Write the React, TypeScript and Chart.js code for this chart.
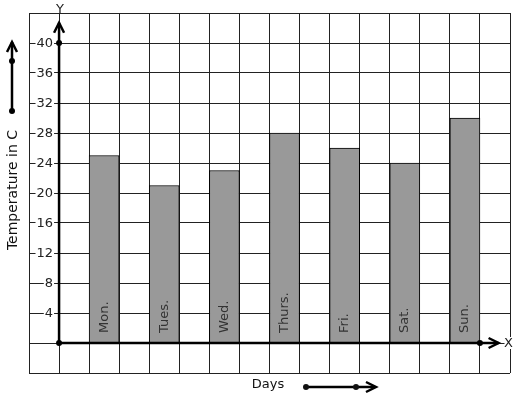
import React, { useEffect, useRef } from "react";
import { Chart, registerables } from "chart.js";

Chart.register(...registerables);

const days = ["Mon.", "Tues.", "Wed.", "Thurs.", "Fri.", "Sat.", "Sun."];
const dayPositions = [1.5, 3.5, 5.5, 7.5, 9.5, 11.5, 13.5];
const temperatures = [25, 21, 23, 28, 26, 24, 30];
const yTickLabels = [4, 8, 12, 16, 20, 24, 28, 32, 36, 40];
const yAxisTitle = "Temperature in C";
const xAxisTitle = "Days";

const FONT = "'DejaVu Sans', sans-serif";

function dot(ctx: CanvasRenderingContext2D, x: number, y: number, r = 3) {
  ctx.beginPath();
  ctx.arc(x, y, r, 0, Math.PI * 2);
  ctx.fill();
}

const decorPlugin = {
  id: "decor",
  afterDraw(chart: any) {
    const ctx: CanvasRenderingContext2D = chart.ctx;
    const xs = chart.scales.x;
    const ys = chart.scales.y;
    const x0 = xs.getPixelForValue(0);
    const y0 = ys.getPixelForValue(0);
    ctx.save();

    // bar labels
    const meta = chart.getDatasetMeta(0);
    ctx.fillStyle = "#333";
    ctx.font = `13px ${FONT}`;
    meta.data.forEach((bar: any, i: number) => {
      ctx.save();
      ctx.translate(bar.x, y0 - 10);
      ctx.rotate(-Math.PI / 2);
      ctx.textAlign = "left";
      ctx.textBaseline = "middle";
      ctx.fillText(days[i], 0, 0);
      ctx.restore();
    });

    // y tick labels with white backdrop
    ctx.font = `13px ${FONT}`;
    ctx.textAlign = "right";
    ctx.textBaseline = "middle";
    const labelRight = x0 - 6;
    yTickLabels.forEach((v) => {
      const py = ys.getPixelForValue(v);
      const t = String(v);
      const w = ctx.measureText(t).width;
      ctx.fillStyle = "#fff";
      ctx.fillRect(labelRight - w - 1, py - 2, w + 2, 4);
      ctx.fillStyle = "#222";
      ctx.fillText(t, labelRight, py + 1);
    });

    ctx.strokeStyle = "#000";
    ctx.fillStyle = "#000";
    ctx.lineWidth = 2.5;
    ctx.lineCap = "butt";

    // Y axis
    const yTip = ys.getPixelForValue(42.7);
    ctx.beginPath();
    ctx.moveTo(x0, y0);
    ctx.lineTo(x0, yTip);
    ctx.stroke();
    ctx.beginPath();
    ctx.moveTo(x0 - 5, yTip + 10);
    ctx.lineTo(x0, yTip);
    ctx.lineTo(x0 + 5, yTip + 10);
    ctx.stroke();
    dot(ctx, x0, ys.getPixelForValue(40));
    dot(ctx, x0, y0);

    // X axis
    const xTip = xs.getPixelForValue(14.62);
    ctx.beginPath();
    ctx.moveTo(x0, y0);
    ctx.lineTo(xTip, y0);
    ctx.stroke();
    ctx.beginPath();
    ctx.moveTo(xTip - 10, y0 - 5);
    ctx.lineTo(xTip, y0);
    ctx.lineTo(xTip - 10, y0 + 5);
    ctx.stroke();
    dot(ctx, xs.getPixelForValue(14), y0);

    // axis letters
    ctx.font = `13px ${FONT}`;
    ctx.textAlign = "center";
    ctx.textBaseline = "middle";
    const yLetterY = ys.getPixelForValue(44.4);
    ctx.fillStyle = "#fff";
    ctx.fillRect(x0 - 7, yLetterY - 5, 14, 8);
    ctx.fillStyle = "#222";
    ctx.fillText("Y", x0 + 1, yLetterY);
    const xLetterX = xs.getPixelForValue(14.95);
    ctx.fillStyle = "#fff";
    ctx.fillRect(xLetterX - 4, y0 - 6, 8, 12);
    ctx.fillStyle = "#222";
    ctx.fillText("X", xLetterX, y0 + 0.5);

    // Y title with arrow
    ctx.save();
    ctx.translate(13, 190);
    ctx.rotate(-Math.PI / 2);
    ctx.font = `14px ${FONT}`;
    ctx.fillStyle = "#111";
    ctx.textAlign = "center";
    ctx.textBaseline = "middle";
    ctx.fillText(yAxisTitle, 0, 0);
    ctx.restore();

    ctx.strokeStyle = "#000";
    ctx.fillStyle = "#000";
    ctx.lineWidth = 2.5;
    ctx.beginPath();
    ctx.moveTo(12, 111);
    ctx.lineTo(12, 42);
    ctx.stroke();
    ctx.beginPath();
    ctx.moveTo(7, 52);
    ctx.lineTo(12, 42);
    ctx.lineTo(17, 52);
    ctx.stroke();
    dot(ctx, 12, 61);
    dot(ctx, 12, 111);

    // X title with arrow
    ctx.font = `13px ${FONT}`;
    ctx.fillStyle = "#111";
    ctx.textAlign = "center";
    ctx.textBaseline = "middle";
    ctx.fillText(xAxisTitle, 268, 385);

    ctx.beginPath();
    ctx.moveTo(306, 387);
    ctx.lineTo(375, 387);
    ctx.stroke();
    ctx.beginPath();
    ctx.moveTo(366, 382);
    ctx.lineTo(376, 387);
    ctx.lineTo(366, 392);
    ctx.stroke();
    dot(ctx, 306, 387);
    dot(ctx, 356, 387);

    ctx.restore();
  },
};

export default function App() {
  const ref = useRef<HTMLCanvasElement>(null);
  useEffect(() => {
    if (!ref.current) return;
    const chart = new Chart(ref.current, {
      type: "bar",
      data: {
        datasets: [
          {
            data: dayPositions.map((x, i) => ({ x, y: temperatures[i] })),
            backgroundColor: "#999999",
            borderColor: "#000",
            borderWidth: 1,
            categoryPercentage: 1,
            barPercentage: 1,
          },
        ],
      },
      options: {
        responsive: false,
        animation: false,
        events: [],
        layout: { padding: { left: 29, right: 7, top: 13, bottom: 26 } },
        plugins: {
          legend: { display: false },
          tooltip: { enabled: false },
          title: { display: false },
        },
        scales: {
          x: {
            type: "linear",
            min: -1,
            max: 15,
            offset: false,
            ticks: { display: false, stepSize: 1 },
            grid: { color: "#222", lineWidth: 1, drawTicks: false, offset: false },
            border: { display: false },
          },
          y: {
            type: "linear",
            min: -4,
            max: 44,
            ticks: { display: false, stepSize: 4 },
            grid: { color: "#222", lineWidth: 1, drawTicks: false },
            border: { display: false },
          },
        },
      },
      plugins: [decorPlugin],
    });
    return () => chart.destroy();
  }, []);
  return (
    <div style={{ position: "fixed", left: 0, top: 0, width: 517, height: 399, background: "#fff" }}>
      <canvas ref={ref} width={517} height={399} />
    </div>
  );
}
